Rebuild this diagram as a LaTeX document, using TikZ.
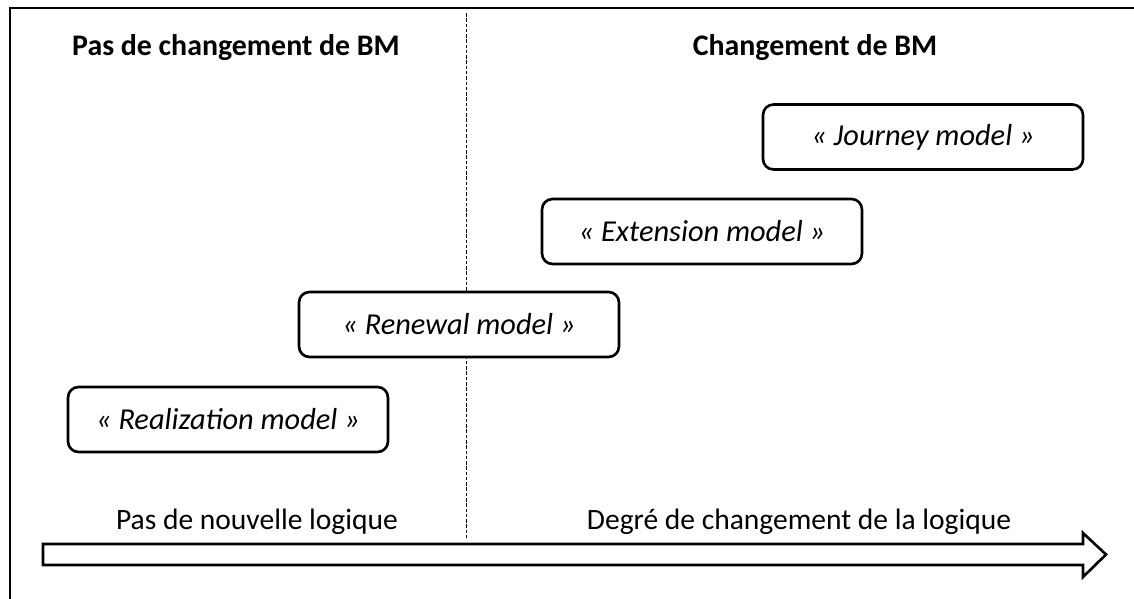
\documentclass[tikz,border=0pt]{standalone}
\usepackage{fontspec}
\setmainfont{Carlito}

\tikzset{
  model/.style={draw,line width=1.5pt,rounded corners=6pt,fill=white,
    minimum width=6.4cm,minimum height=1.3cm,inner sep=0pt,
    font=\fontsize{17.3}{20}\selectfont\itshape},
  heading/.style={font=\fontsize{17}{20}\selectfont\bfseries},
  axislabel/.style={font=\fontsize{16.8}{20}\selectfont}
}

\begin{document}
\begin{tikzpicture}
  \useasboundingbox (0,0) rectangle (22.68,11.98);

  % Frame and separation
  \draw[line width=1.6pt] (0.2,-0.2) -- (0.2,11.82) -- (23,11.82);
  \draw[dashed,line width=0.5pt,dash pattern=on 2pt off 1pt] (9.32,11.72) -- (9.32,1.18);

  % Headings
  \node[heading] (nochange) at (4.72,11.02) {Pas de changement de BM};
  \node[heading] (change) at (16.3,11.02) {Changement de BM};

  % Models
  \node[model] (journey) at (18.46,9.24) {« Journey model »};
  \node[model] (extension) at (14.04,7.35) {« Extension model »};
  \node[model] (renewal) at (9.18,5.49) {« Renewal model »};
  \node[model] (realization) at (4.56,3.59) {« Realization model »};

  % Axis
  \node[axislabel] (nologic) at (5.14,1.54) {Pas de nouvelle logique};
  \node[axislabel] (degree) at (15.98,1.54) {Degré de changement de la logique};
  \draw[line width=1.5pt,fill=white] (0.86,1.10) -- (21.66,1.10) -- (21.66,1.32) -- (22.12,0.89)
    -- (21.66,0.44) -- (21.66,0.68) -- (0.86,0.68) -- cycle;

\end{tikzpicture}
\end{document}
